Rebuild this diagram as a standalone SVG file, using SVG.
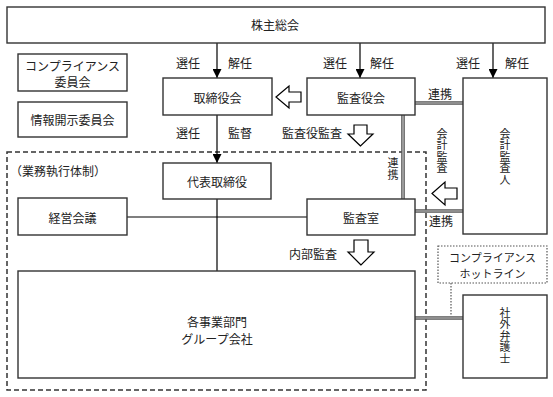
<svg xmlns="http://www.w3.org/2000/svg" width="553" height="397" viewBox="0 0 553 397">
<defs>
<marker id="ah" markerWidth="9" markerHeight="9" refX="9" refY="4.5" orient="auto" markerUnits="userSpaceOnUse">
<path d="M0,0 L9,4.5 L0,9 Z" fill="#000"/>
</marker>
<style>
.box{fill:#fff;stroke:#333;stroke-width:1.4}
.t{font-family:"Noto Sans CJK JP","Noto Sans CJK SC",sans-serif;font-size:12px;fill:#222;text-anchor:middle;dominant-baseline:central}
.v{font-family:"Noto Sans CJK JP","Noto Sans CJK SC",sans-serif;font-size:11px;fill:#222;text-anchor:middle;writing-mode:vertical-rl;letter-spacing:0.5px}
.ln{stroke:#000;stroke-width:1.2;fill:none}
.dbo{stroke:#555;stroke-width:3.6;fill:none}
.dbi{stroke:#c8c8c8;stroke-width:1.2;fill:none}
.hollow{fill:#fff;stroke:#000;stroke-width:1.2;stroke-linejoin:miter}
</style>
</defs>
<rect width="553" height="397" fill="#fff"/>
<rect x="7" y="152" width="419" height="238" fill="none" stroke="#333" stroke-width="1.5" stroke-dasharray="5,3"/>
<g id="connectors">
<line class="ln" x1="217" y1="43" x2="217" y2="78" marker-end="url(#ah)"/>
<line class="ln" x1="360" y1="43" x2="360" y2="78" marker-end="url(#ah)"/>
<line class="ln" x1="493" y1="43" x2="493" y2="78" marker-end="url(#ah)"/>
<line class="ln" x1="217" y1="115" x2="217" y2="163" marker-end="url(#ah)"/>
<line class="ln" x1="217" y1="199" x2="217" y2="271"/>
<line class="ln" x1="127" y1="217" x2="307" y2="217"/>
<path class="dbo" d="M415,103 H463 M403,115 V199 M415,211 H463 M415,318 H463"/>
<path class="dbi" d="M415,103 H463 M403,115 V199 M415,211 H463 M415,318 H463"/>
<line x1="451" y1="283" x2="451" y2="316" stroke="#555" stroke-width="1.2" stroke-dasharray="1.5,1.5"/>
<polygon class="hollow" points="276,97 289,86 289,92 301,92 301,102 289,102 289,108"/>
<polygon class="hollow" points="360.5,146 348,134 354,134 354,125 367,125 367,134 373,134"/>
<polygon class="hollow" points="361,265 348,252 354,252 354,240 368,240 368,252 374,252"/>
<polygon class="hollow" points="432,193.5 445,182 445,188 457,188 457,199 445,199 445,205"/>
<text class="t" x="188" y="62">選任</text>
<text class="t" x="240" y="62">解任</text>
<text class="t" x="335" y="62">選任</text>
<text class="t" x="382" y="62">解任</text>
<text class="t" x="468" y="62">選任</text>
<text class="t" x="517" y="62">解任</text>
<text class="t" x="188" y="132">選任</text>
<text class="t" x="240" y="132">監督</text>
<text class="t" x="312" y="132">監査役監査</text>
<text class="t" x="313" y="253">内部監査</text>
<text class="t" x="440" y="93">連携</text>
<text class="t" x="441" y="220">連携</text>
<text class="v" x="393" y="169">連携</text>
<text class="v" x="442" y="151">会計監査</text>
</g>
<g id="kabunushi"><rect class="box" x="7" y="7" width="538" height="36"/><text class="t" x="275" y="24">株主総会</text></g>
<g id="compliance-iinkai"><rect class="box" x="18" y="54" width="109" height="37"/><text class="t" x="72.5" y="65"><tspan x="72.5" y="65">コンプライアンス</tspan><tspan x="72.5" y="81">委員会</tspan></text></g>
<g id="joho-kaiji"><rect class="box" x="18" y="102" width="109" height="35"/><text class="t" x="72.5" y="119.5">情報開示委員会</text></g>
<g id="torishimariyakukai"><rect class="box" x="163" y="78" width="109" height="37"/><text class="t" x="217.5" y="97">取締役会</text></g>
<g id="kansayakukai"><rect class="box" x="307" y="78" width="108" height="37"/><text class="t" x="361" y="97">監査役会</text></g>
<g id="kaikei-kansanin"><rect class="box" x="463" y="78" width="84" height="156"/>
<text class="v" x="505" y="157">会計監査人</text></g>
<g id="gyomu-label"><text class="t" x="10" y="170" style="text-anchor:start">（業務執行体制）</text></g>
<g id="daihyo"><rect class="box" x="163" y="163" width="108" height="36"/><text class="t" x="217" y="181">代表取締役</text></g>
<g id="keiei-kaigi"><rect class="box" x="18" y="198" width="109" height="37"/><text class="t" x="72.5" y="217">経営会議</text></g>
<g id="kansashitsu"><rect class="box" x="307" y="199" width="108" height="36"/><text class="t" x="361" y="217">監査室</text></g>
<g id="hotline"><rect x="438" y="246" width="109" height="37" fill="#fff" stroke="#555" stroke-width="1.2" stroke-dasharray="1.5,1.5"/><text class="t" style="font-size:11px" x="492.5" y="257"><tspan x="492.5" y="257">コンプライアンス</tspan><tspan x="492.5" y="273">ホットライン</tspan></text></g>
<g id="jigyobumon"><rect class="box" x="18" y="271" width="397" height="107"/><text class="t" x="217" y="320.5"><tspan x="217" y="320.5">各事業部門</tspan><tspan x="217" y="338">グループ会社</tspan></text></g>
<g id="bengoshi"><rect class="box" x="463" y="295" width="84" height="83"/>
<text class="v" x="505" y="336">社外弁護士</text></g>
</svg>
